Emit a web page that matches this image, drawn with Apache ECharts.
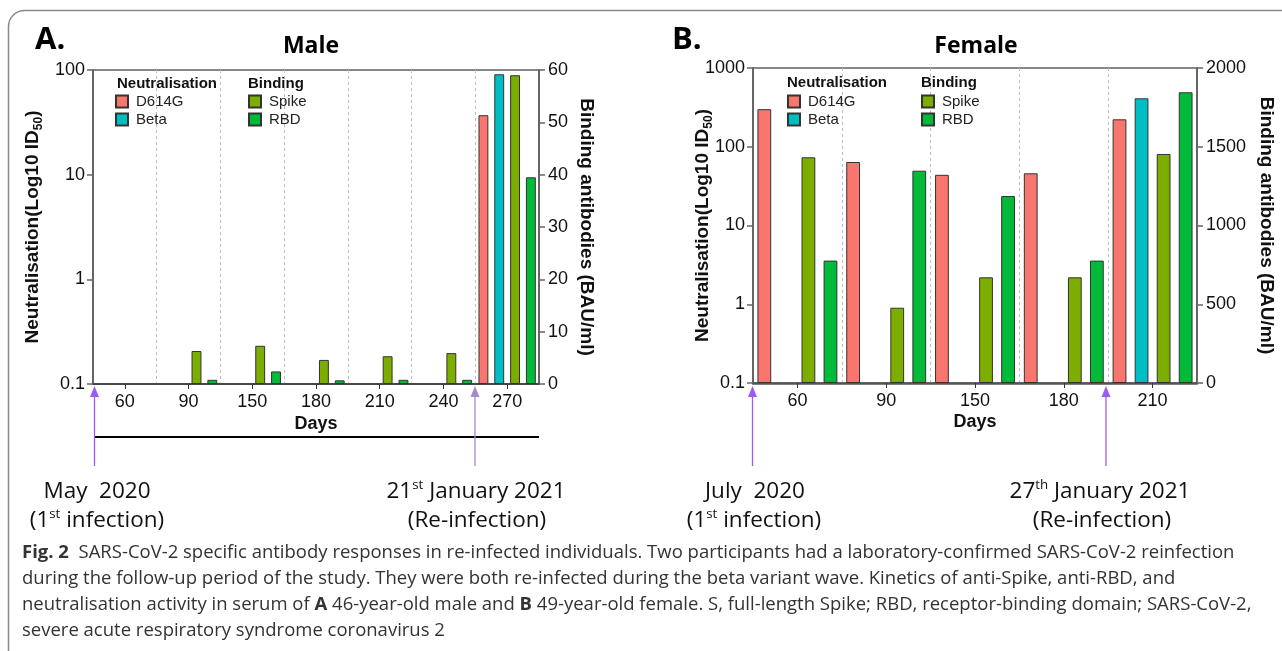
<!DOCTYPE html>
<html><head><meta charset="utf-8">
<script src="https://cdn.jsdelivr.net/npm/echarts@6/dist/echarts.min.js"></script>
<style>html,body{margin:0;padding:0;background:#fff;}#c{width:1282px;height:651px;}</style>
</head><body><div id="c"></div>
<script>
// ---------- DATA ----------
const maleDays = ['60', '90', '150', '180', '210', '240', '270'];
const maleD614G = [null, null, null, null, null, null, 37];
const maleBeta = [null, null, null, null, null, null, 91];
const maleSpike = [null, 6.3, 7.3, 4.6, 5.3, 5.9, 59];
const maleRBD = [null, 0.8, 2.4, 0.7, 0.8, 0.8, 39.5];

const femaleDays = ['60', '90', '150', '180', '210'];
const femaleD614G = [300, 64, 44, 46, 223];
const femaleBeta = [null, null, null, null, 412];
const femaleSpike = [1433, 478, 671, 671, 1454];
const femaleRBD = [777, 1348, 1187, 777, 1846];

const maleNeutRange = [0.1, 100];
const maleBindRange = [0, 60];
const maleBindInterval = 10;
const femaleNeutRange = [0.1, 1000];
const femaleBindRange = [0, 2000];
const femaleBindInterval = 500;

const neutTitle = ['Neutralisation(Log10 ID', '50', ')'];
const bindTitle = 'Binding antibodies (BAU/ml)';
const xTitle = 'Days';

// ---------- STYLE ----------
const F = "'Liberation Sans', Arial, sans-serif";
const O = "'Open Sans', 'Noto Sans', sans-serif";
const COL = { D614G: '#F8766D', Beta: '#00BFC4', Spike: '#7CAE00', RBD: '#00BA38' };
const plain = v => String(v);

const chart = echarts.init(document.getElementById('c'), null, { renderer: 'canvas' });

function bar(name, data, xi, yi) {
  return {
    type: 'bar', name, data, xAxisIndex: xi, yAxisIndex: yi,
    barGap: '60%', barCategoryGap: '10%',
    itemStyle: { color: COL[name], borderColor: '#333', borderWidth: 1 },
    silent: true, animation: false
  };
}
function catAxis(gi, data, lineColor, lineWidth, gap) {
  return {
    type: 'category', gridIndex: gi, data, boundaryGap: true,
    axisLine: { show: true, onZero: false, lineStyle: { color: lineColor, width: lineWidth } },
    axisTick: { show: true, alignWithLabel: true, interval: 0, length: 5, lineStyle: { color: '#333' } },
    axisLabel: { interval: 0, fontSize: 18, fontFamily: F, color: '#111', margin: 9 },
    splitLine: { show: true, interval: 0, lineStyle: { color: '#bdbdbd', type: [3, 3], width: 1 } },
    name: xTitle, nameLocation: 'middle', nameGap: gap,
    nameTextStyle: { fontSize: 18, fontWeight: 'bold', fontFamily: F, color: '#111' }
  };
}
const nameRich = {
  t: { fontSize: 19, fontWeight: 'bold', fontFamily: F, color: '#111', lineHeight: 24 },
  s: { fontSize: 12, fontWeight: 'bold', fontFamily: F, color: '#111', lineHeight: 24, verticalAlign: 'bottom' }
};
function logAxis(gi, range, gap) {
  return {
    type: 'log', gridIndex: gi, logBase: 10, min: range[0], max: range[1], startValue: range[0],
    position: 'left',
    name: '{t|' + neutTitle[0] + '}{s|' + neutTitle[1] + '}{t|' + neutTitle[2] + '}',
    nameLocation: 'middle', nameRotate: 90, nameGap: gap, nameMoveOverlap: false,
    nameTextStyle: { rich: nameRich },
    axisLine: { show: true, lineStyle: { color: '#666', width: 2 } },
    axisTick: { show: true, length: 6, lineStyle: { color: '#666', width: 1.5 } },
    axisLabel: { fontSize: 18, fontFamily: F, color: '#111', margin: 8, formatter: plain },
    splitLine: { show: false }
  };
}
function linAxis(gi, range, interval, gap) {
  return {
    type: 'value', gridIndex: gi, min: range[0], max: range[1], interval,
    position: 'right',
    name: bindTitle, nameLocation: 'middle', nameRotate: -90, nameGap: gap, nameMoveOverlap: false,
    nameTextStyle: { fontSize: 19, fontWeight: 'bold', fontFamily: F, color: '#111' },
    axisLine: { show: true, lineStyle: { color: '#666', width: 2 } },
    axisTick: { show: true, length: 6, lineStyle: { color: '#666', width: 1.5 } },
    axisLabel: { fontSize: 18, fontFamily: F, color: '#111', margin: 9, formatter: plain },
    splitLine: { show: false }
  };
}
function legend(left, top, names) {
  return {
    left, top, orient: 'vertical', data: names, icon: 'rect', itemWidth: 12, itemHeight: 12,
    itemGap: 3, selectedMode: false, padding: 0,
    textStyle: { fontSize: 15, fontFamily: F, color: '#222', padding: [0, 0, 0, 3] }
  };
}

// ---------- text measuring for condensed look ----------
const mctx = document.createElement('canvas').getContext('2d');
function measure(text, font) { mctx.font = font; return mctx.measureText(text).width; }

const annFontSize = 22;
const annFont = annFontSize + "px 'Open Sans'";
const annScale = 179 / (measure('21 January 2021', annFont) + measure('st', "13px 'Open Sans'"));
const capFontSize = 18;
const capLine1Plain = 'Fig. 2  SARS-CoV-2 specific antibody responses in re-infected individuals. Two participants had a laboratory-confirmed SARS-CoV-2 reinfection';
const capScale = 1210 / measure(capLine1Plain, capFontSize + "px 'Open Sans'");

const supRich = { sup: { fontSize: 13, fontFamily: O, fill: '#111', verticalAlign: 'top', lineHeight: 26 } };
function ann(x, y, text) {
  return {
    type: 'text', x, y, scaleX: annScale, silent: true,
    style: { text, fontSize: annFontSize, fontFamily: O, fill: '#111', align: 'center', verticalAlign: 'middle', rich: supRich, lineHeight: 26 }
  };
}
const capRich = { b: { fontWeight: 'bold', fontSize: capFontSize, fontFamily: O, fill: '#333' } };
function cap(y, text) {
  return {
    type: 'text', x: 22, y, scaleX: capScale, silent: true,
    style: { text, fontSize: capFontSize, fontFamily: O, fill: '#333', align: 'left', verticalAlign: 'middle', rich: capRich }
  };
}
function arrow(x, color) {
  return [
    { type: 'line', silent: true, shape: { x1: x, y1: 466, x2: x, y2: 394 }, style: { stroke: color, lineWidth: 1.3 } },
    { type: 'polygon', silent: true, shape: { points: [[x - 4.5, 397], [x + 4.5, 397], [x, 386]] }, style: { fill: color } }
  ];
}

const graphics = [
  { type: 'rect', silent: true, z: -10, shape: { x: 8.5, y: 10.5, width: 1400, height: 800, r: 16 }, style: { fill: 'none', stroke: '#8a8a8a', lineWidth: 1.5 } },
  { type: 'text', x: 35, y: 40, silent: true, style: { text: 'A.', fontSize: 31, fontWeight: 'bold', fontFamily: O, fill: '#000', verticalAlign: 'middle' } },
  { type: 'text', x: 672, y: 40, silent: true, style: { text: 'B.', fontSize: 31, fontWeight: 'bold', fontFamily: O, fill: '#000', verticalAlign: 'middle' } },
  { type: 'text', x: 311, y: 46, silent: true, style: { text: 'Male', fontSize: 23, fontWeight: 'bold', fontFamily: O, fill: '#000', align: 'center', verticalAlign: 'middle' } },
  { type: 'text', x: 976, y: 46, silent: true, style: { text: 'Female', fontSize: 23, fontWeight: 'bold', fontFamily: O, fill: '#000', align: 'center', verticalAlign: 'middle' } },
  { type: 'text', x: 117, y: 84, silent: true, style: { text: 'Neutralisation', fontSize: 15, fontWeight: 'bold', fontFamily: F, fill: '#111', verticalAlign: 'middle' } },
  { type: 'text', x: 248, y: 84, silent: true, style: { text: 'Binding', fontSize: 15, fontWeight: 'bold', fontFamily: F, fill: '#111', verticalAlign: 'middle' } },
  { type: 'text', x: 787, y: 83, silent: true, style: { text: 'Neutralisation', fontSize: 15, fontWeight: 'bold', fontFamily: F, fill: '#111', verticalAlign: 'middle' } },
  { type: 'text', x: 921, y: 83, silent: true, style: { text: 'Binding', fontSize: 15, fontWeight: 'bold', fontFamily: F, fill: '#111', verticalAlign: 'middle' } },
  { type: 'line', silent: true, shape: { x1: 95, y1: 437, x2: 539, y2: 437 }, style: { stroke: '#000', lineWidth: 2 } },
  ...arrow(94.5, '#9b5cf6'),
  ...arrow(475, '#a48ccc'),
  ...arrow(752.5, '#9b5cf6'),
  ...arrow(1106, '#9b5cf6'),
  ann(97, 492, 'May  2020'),
  ann(97, 521, '(1{sup|st} infection)'),
  ann(476, 492, '21{sup|st} January 2021'),
  ann(477, 521, '(Re-infection)'),
  ann(755, 492, 'July  2020'),
  ann(754, 521, '(1{sup|st} infection)'),
  ann(1100, 492, '27{sup|th} January 2021'),
  ann(1102, 521, '(Re-infection)'),
  cap(553, '{b|Fig. 2}  SARS-CoV-2 specific antibody responses in re-infected individuals. Two participants had a laboratory-confirmed SARS-CoV-2 reinfection'),
  cap(579, 'during the follow-up period of the study. They were both re-infected during the beta variant wave. Kinetics of anti-Spike, anti-RBD, and'),
  cap(605, 'neutralisation activity in serum of {b|A} 46-year-old male and {b|B} 49-year-old female. S, full-length Spike; RBD, receptor-binding domain; SARS-CoV-2,'),
  cap(631, 'severe acute respiratory syndrome coronavirus 2')
];

const option = {
  animation: false,
  backgroundColor: '#fff',
  grid: [
    { left: 93, top: 70, width: 446, height: 314, show: true, borderColor: '#111', borderWidth: 1, backgroundColor: 'transparent', containLabel: false, outerBoundsMode: 'none' },
    { left: 753, top: 68, width: 444, height: 315, show: true, borderColor: '#111', borderWidth: 1, backgroundColor: 'transparent', containLabel: false, outerBoundsMode: 'none' }
  ],
  xAxis: [
    catAxis(0, maleDays, '#333', 1.5, 31),
    catAxis(1, femaleDays, '#555', 2.5, 30)
  ],
  yAxis: [
    logAxis(0, maleNeutRange, 48),
    linAxis(0, maleBindRange, maleBindInterval, 38),
    logAxis(1, femaleNeutRange, 38),
    linAxis(1, femaleBindRange, femaleBindInterval, 60)
  ],
  legend: [
    legend(115, 94, ['D614G', 'Beta']),
    legend(248, 94, ['Spike', 'RBD']),
    legend(787, 94, ['D614G', 'Beta']),
    legend(921, 94, ['Spike', 'RBD'])
  ],
  series: [
    bar('D614G', maleD614G, 0, 0),
    bar('Beta', maleBeta, 0, 0),
    bar('Spike', maleSpike, 0, 1),
    bar('RBD', maleRBD, 0, 1),
    bar('D614G', femaleD614G, 1, 2),
    bar('Beta', femaleBeta, 1, 2),
    bar('Spike', femaleSpike, 1, 3),
    bar('RBD', femaleRBD, 1, 3)
  ],
  graphic: graphics
};
chart.setOption(option);
</script></body></html>
